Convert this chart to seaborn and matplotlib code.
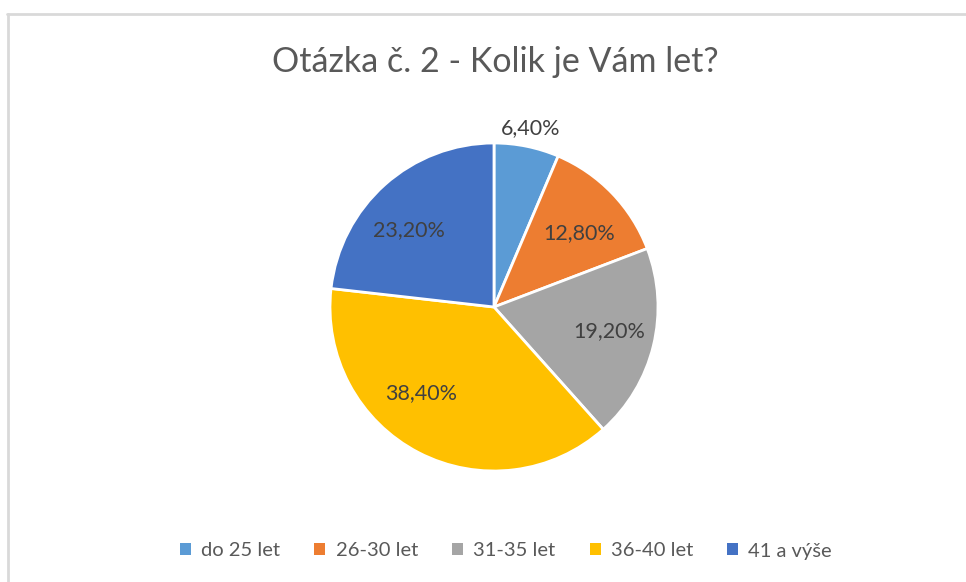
import numpy as np
import matplotlib
matplotlib.use("Agg")
import matplotlib.pyplot as plt
import seaborn as sns
from matplotlib.lines import Line2D
from matplotlib.patches import Patch

# data
categories = ["do 25 let", "26-30 let", "31-35 let", "36-40 let", "41 a výše"]
shares = [6.4, 12.8, 19.2, 38.4, 23.2]
pct_labels = ["6,40%", "12,80%", "19,20%", "38,40%", "23,20%"]
title = "Otázka č. 2 - Kolik je Vám let?"

# style
colors = ["#5B9BD5", "#ED7D31", "#A5A5A5", "#FFC000", "#4472C4"]
label_dist = [1.115, 0.69, 0.72, 0.69, 0.70]
label_turn = [0, -3, 2, -13, 6]  # degrees, Excel "best fit" placement

sns.set_theme(style="white")
plt.rcParams["font.family"] = ["Lato", "DejaVu Sans"]

fig = plt.figure(figsize=(9.66, 5.82), dpi=100)
W, H = 966, 582
cx, cy, r = 494, 307, 164
ax = fig.add_axes([(cx - r) / W, (H - cy - r) / H, 2 * r / W, 2 * r / H])

wedges, _ = ax.pie(shares, colors=colors, startangle=90, counterclock=False,
                   radius=1, wedgeprops=dict(edgecolor="white", linewidth=2))
ax.set_xlim(-1, 1)
ax.set_ylim(-1, 1)
ax.set_aspect("equal")
ax.axis("off")

# data labels
for w, lab, d, t in zip(wedges, pct_labels, label_dist, label_turn):
    ang = np.deg2rad((w.theta1 + w.theta2) / 2 + t)
    ax.text(d * np.cos(ang), d * np.sin(ang), lab, ha="center", va="center",
            fontsize=15.5, color="#404040", clip_on=False)

fig.text(495 / W, 1 - 62 / H, title, ha="center", va="center",
         fontsize=24.5, color="#595959")

handles = [Patch(facecolor=c, edgecolor="none") for c in colors]
fig.legend(handles, categories, loc="center", ncol=5, frameon=False,
           bbox_to_anchor=(506 / W, 1 - 551 / H), fontsize=14.5,
           labelcolor="#595959", handlelength=0.55, handleheight=0.55,
           handletextpad=0.5, columnspacing=1.7)

# chart frame (top + left edges visible)
fig.add_artist(Line2D([7 / W, 1], [1 - 14 / H, 1 - 14 / H], color="#D9D9D9", lw=2))
fig.add_artist(Line2D([8 / W, 8 / W], [0, 1 - 14 / H], color="#D9D9D9", lw=2))

fig.savefig("out.png", dpi=100, facecolor="white")
